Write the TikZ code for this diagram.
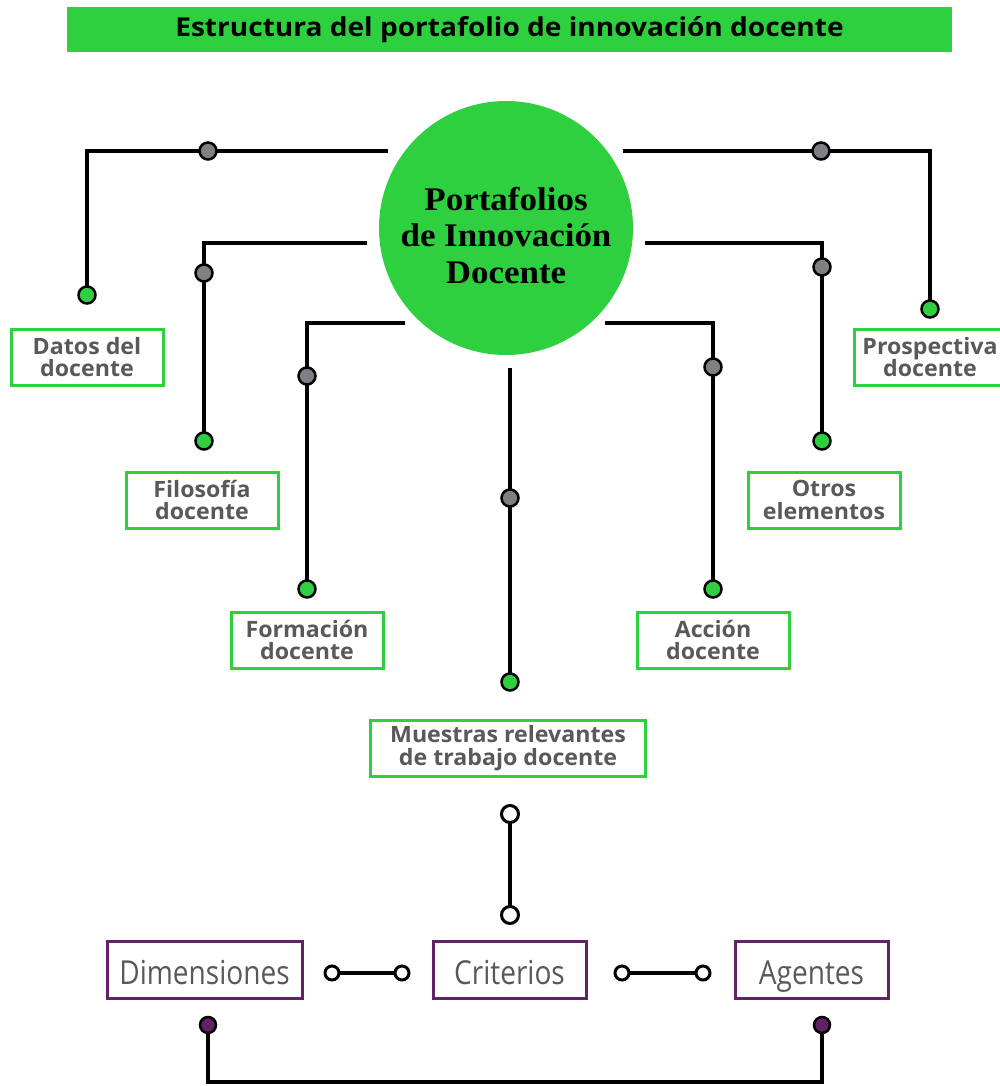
\documentclass[tikz,border=0pt]{standalone}
\usepackage{fontspec}
\setmainfont{Open Sans}
\newfontfamily\hubfont{Liberation Serif}[FakeStretch=1.06]
\newfontfamily\titlefont{Open Sans}[FakeStretch=1.08]
\newfontfamily\lowfont{Open Sans}[FakeStretch=0.85]
\newfontfamily\boxfont{Open Sans}[FakeStretch=1.03]
\usetikzlibrary{backgrounds}
\definecolor{vgreen}{RGB}{47,208,64}
\definecolor{dgray}{RGB}{88,89,91}
\definecolor{mgray}{RGB}{128,128,132}
\definecolor{vpurple}{RGB}{98,34,102}
\tikzset{
  conn/.style={line width=4, black},
  gbox/.style={draw=vgreen, line width=3, fill=white, minimum width=152, minimum height=56, inner sep=0, align=center, text=dgray, font=\boxfont\bfseries\fontsize{22.5}{22.5}\selectfont},
  pbox/.style={draw=vpurple, line width=3, fill=white, minimum width=153, minimum height=57, inner sep=0, text=dgray, text height=29, text depth=0, font=\lowfont\fontsize{33}{33}\selectfont},
  gdot/.style={circle, draw=black, line width=2.5, fill=vgreen, minimum size=17, inner sep=0},
  sdot/.style={circle, draw=black, line width=2.5, fill=mgray, minimum size=17, inner sep=0},
  odot/.style={circle, draw=black, line width=3, fill=white, minimum size=17, inner sep=0},
  pdot/.style={circle, draw=black, line width=2.5, fill=vpurple, minimum size=16, inner sep=0},
}
\begin{document}
\begin{tikzpicture}[x=1pt,y=-1pt]
\useasboundingbox (0,0) rectangle (1000,1086);
% title
\node[fill=vgreen, minimum width=885, minimum height=45, inner sep=0] (title) at (509.5,29.5)
  {\titlefont\bfseries\fontsize{26}{26}\selectfont Estructura del portafolio de innovación docente};
% hub
\node[circle, fill=vgreen, minimum size=254, inner sep=0] (hub) at (506,228) {};
\node[align=center, inner sep=0, anchor=base, font=\hubfont\bfseries\fontsize{33}{36.5}\selectfont] (hubtext) at (506,283)
  {Portafolios\\de Innovación\\Docente};
% connector ends near hub
\coordinate (a0) at (388,151);
\coordinate (b0) at (367,243);
\coordinate (c0) at (405,323);
\coordinate (m0) at (510,368);
\coordinate (e0) at (605,323);
\coordinate (f0) at (645,243);
\coordinate (p0) at (623,151);
% end dots
\node[gdot] (ga) at (87,295) {};
\node[gdot] (gb) at (204,441) {};
\node[gdot] (gc) at (307,589) {};
\node[gdot] (gm) at (510,682) {};
\node[gdot] (ge) at (713,589) {};
\node[gdot] (gf) at (822,441) {};
\node[gdot] (gp) at (930,309) {};
% middle dots
\node[sdot] (sa) at (208,151) {};
\node[sdot] (sb) at (204,273) {};
\node[sdot] (sc) at (307,376) {};
\node[sdot] (sm) at (510,498) {};
\node[sdot] (se) at (713,367) {};
\node[sdot] (sf) at (822,267) {};
\node[sdot] (sp) at (821,151) {};
% boxes
\node[gbox] (ba) at (87,357) {Datos del\\docente};
\node[gbox] (bb) at (202,500) {Filosofía\\docente};
\node[gbox] (bc) at (307,640) {Formación\\docente};
\node[gbox, minimum width=275] (bm) at (508,748) {Muestras relevantes\\de trabajo docente};
\node[gbox] (be) at (713,640) {Acción\\docente};
\node[gbox] (bf) at (824,500) {Otros\\elementos};
\node[gbox] (bp) at (930,357) {Prospectiva\\docente};
% lower part
\node[odot] (o1) at (510,814) {};
\node[odot] (o2) at (510,915) {};
\node[pbox, minimum width=195] (dim) at (204.5,969.5) {Dimensiones};
\node[pbox] (cri) at (509.5,969.5) {Criterios};
\node[pbox] (age) at (811.5,969.5) {Agentes};
\node[odot, minimum size=14] (q1) at (332,973) {};
\node[odot, minimum size=14] (q2) at (402,973) {};
\node[odot, minimum size=14] (q3) at (622,973) {};
\node[odot, minimum size=14] (q4) at (703,973) {};
\node[pdot] (pd1) at (208,1025) {};
\node[pdot] (pd2) at (822,1025) {};
\coordinate (pb) at (208,1082);
\begin{scope}[on background layer]
  \draw[conn] (a0) -| (ga.center);
  \draw[conn] (b0) -| (gb.center);
  \draw[conn] (c0) -| (gc.center);
  \draw[conn] (m0) -- (gm.center);
  \draw[conn] (e0) -| (ge.center);
  \draw[conn] (f0) -| (gf.center);
  \draw[conn] (p0) -| (gp.center);
  \draw[conn] (o1.center) -- (o2.center);
  \draw[conn] (q1.center) -- (q2.center);
  \draw[conn] (q3.center) -- (q4.center);
  \draw[conn, line width=3.5] (pd1.center) -- (pb) -| (pd2.center);
\end{scope}
\end{tikzpicture}
\end{document}
